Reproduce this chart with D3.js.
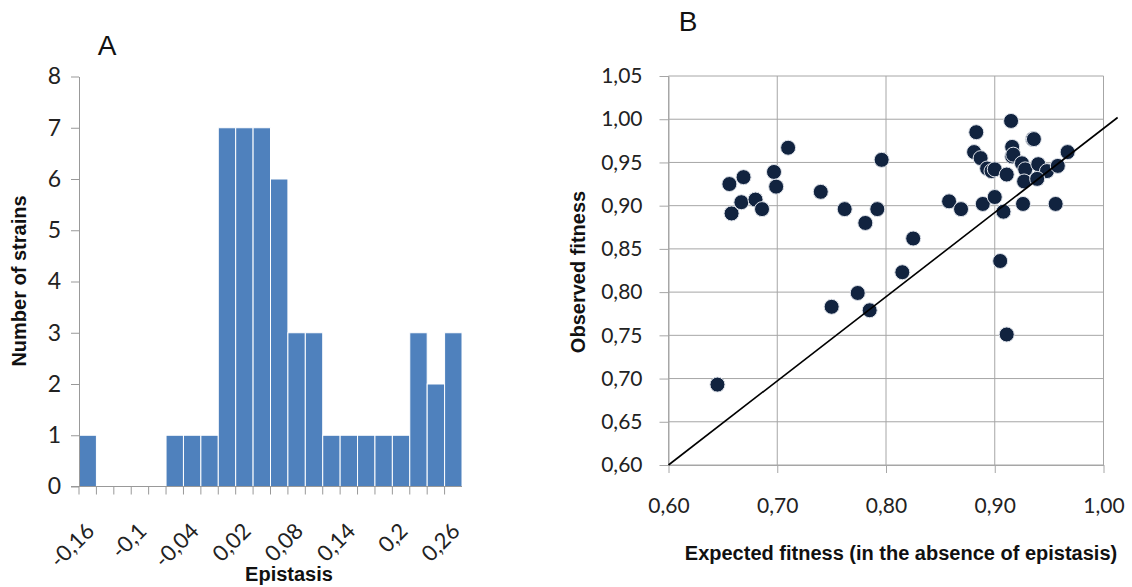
<!DOCTYPE html>
<html>
<head>
<meta charset="utf-8">
<script src="https://cdn.jsdelivr.net/npm/d3@7"></script>
<style>
    body { margin: 0; background: #ffffff; }
    .tick text { font-family: Lato, "Open Sans", sans-serif; fill: #222; }
    .axisTitle { font-family: "Liberation Sans", Arial, sans-serif; font-weight: bold; fill: #111; }
    .panelLabel { font-family: "Liberation Sans", Arial, sans-serif; fill: #111; }
</style>
</head>
<body>
<div id="chart"></div>
<script>

// histogram (panel A)
var epistasisBins = [-0.16, -0.14, -0.12, -0.10, -0.08, -0.06, -0.04, -0.02, 0, 0.02, 0.04,
                     0.06, 0.08, 0.10, 0.12, 0.14, 0.16, 0.18, 0.20, 0.22, 0.24, 0.26];
var strainCounts = [1, 0, 0, 0, 0, 1, 1, 1, 7, 7, 7, 6, 3, 3, 1, 1, 1, 1, 1, 3, 2, 3];
var epistasisLabelled = [-0.16, -0.10, -0.04, 0.02, 0.08, 0.14, 0.20, 0.26];
var countTicks = [0, 1, 2, 3, 4, 5, 6, 7, 8];

// scatter (panel B)
var expectedFitness = [0.645, 0.656, 0.669, 0.658, 0.667, 0.680, 0.686, 0.697, 0.699, 0.710,
                       0.740, 0.762, 0.781, 0.792, 0.796, 0.750, 0.774, 0.785, 0.815, 0.825,
                       0.858, 0.869, 0.889, 0.900, 0.908, 0.926, 0.956, 0.905, 0.911, 0.915,
                       0.883, 0.935, 0.936, 0.916, 0.881, 0.887, 0.916, 0.917, 0.967, 0.925,
                       0.893, 0.897, 0.900, 0.911, 0.928, 0.940, 0.948, 0.958, 0.927, 0.939];
var observedFitness = [0.693, 0.925, 0.933, 0.891, 0.904, 0.907, 0.896, 0.939, 0.922, 0.967,
                       0.916, 0.896, 0.880, 0.896, 0.953, 0.783, 0.799, 0.779, 0.823, 0.862,
                       0.905, 0.896, 0.902, 0.910, 0.893, 0.902, 0.902, 0.836, 0.751, 0.998,
                       0.985, 0.977, 0.977, 0.968, 0.962, 0.955, 0.957, 0.959, 0.962, 0.949,
                       0.943, 0.940, 0.942, 0.936, 0.942, 0.948, 0.940, 0.946, 0.928, 0.931];
var expectedTicks = [0.60, 0.70, 0.80, 0.90, 1.00];
var observedTicks = [0.60, 0.65, 0.70, 0.75, 0.80, 0.85, 0.90, 0.95, 1.00, 1.05];
// hand drawn reference line (ends)
var lineExpected = [0.60, 1.013];
var lineObserved = [0.60, 1.002];

var svg = d3.select("#chart").append("svg")
    .attr("width", 1132)
    .attr("height", 587)
    .style("display", "block");

var commaFormat = function(v){
    return String(+v.toFixed(2)).replace(".", ",");
};

/**
 * Panel A, number of strains per epistasis bin
 */
function Histogram(svg){
    var self = this;
    self.svg = svg;
    self.box = {left: 79, right: 462, top: 76.5, bottom: 486.5};
    self.init();
};

Histogram.prototype.init = function(){
    var self = this;
    var b = self.box;

    self.x = d3.scaleBand().domain(epistasisBins).range([b.left, b.right]).padding(0);
    self.y = d3.scaleLinear().domain([0, 8]).range([b.bottom, b.top]);
    self.g = self.svg.append("g");
};

Histogram.prototype.update = function(){
    var self = this;
    var b = self.box;
    var x = self.x, y = self.y;

    var data = epistasisBins.map(function(d, i){ return {bin: d, count: strainCounts[i]}; });

    self.g.selectAll("rect").data(data).enter().append("rect")
        .attr("x", function(d){ return x(d.bin); })
        .attr("y", function(d){ return y(d.count); })
        .attr("width", x.bandwidth())
        .attr("height", function(d){ return y(0) - y(d.count); })
        .attr("fill", "#4f81bd")
        .attr("stroke", "#ffffff")
        .attr("stroke-width", 1);

    //y axis
    var yAxis = self.g.append("g")
        .attr("transform", "translate(" + b.left + ",0)")
        .call(d3.axisLeft(y).tickValues(countTicks).tickSize(8).tickSizeOuter(0).tickPadding(10));
    yAxis.selectAll("line, path").attr("stroke", "#999");
    yAxis.selectAll("text").style("font-size", "23px");

    //x axis: line and ticks on the bin edges
    self.g.append("line")
        .attr("x1", b.left - 8).attr("x2", b.right)
        .attr("y1", b.bottom).attr("y2", b.bottom)
        .attr("stroke", "#999");
    self.g.selectAll(".edgeTick").data(epistasisBins).enter().append("line")
        .attr("class", "edgeTick")
        .attr("x1", function(d){ return x(d); })
        .attr("x2", function(d){ return x(d); })
        .attr("y1", b.bottom).attr("y2", b.bottom + 8)
        .attr("stroke", "#999");

    var xAxis = self.g.append("g")
        .attr("transform", "translate(0," + b.bottom + ")")
        .call(d3.axisBottom(x).tickValues(epistasisLabelled).tickSize(0).tickFormat(commaFormat));
    xAxis.select(".domain").remove();
    xAxis.selectAll("text")
        .attr("y", 0).attr("dy", 0)
        .attr("text-anchor", "end")
        .attr("transform", "translate(8,46) rotate(-45)")
        .style("font-size", "22px");

    self.svg.append("text").attr("class", "axisTitle")
        .attr("x", 289).attr("y", 581)
        .attr("text-anchor", "middle")
        .style("font-size", "20px")
        .text("Epistasis");

    self.svg.append("text").attr("class", "axisTitle")
        .attr("transform", "translate(26,281) rotate(-90)")
        .attr("text-anchor", "middle")
        .style("font-size", "20px")
        .text("Number of strains");

    self.svg.append("text").attr("class", "panelLabel")
        .attr("x", 107).attr("y", 55)
        .attr("text-anchor", "middle")
        .style("font-size", "28px")
        .text("A");
};

/**
 * Panel B, observed against expected fitness
 */
function FitnessScatter(svg){
    var self = this;
    self.svg = svg;
    self.box = {left: 668.5, right: 1103.5, top: 76, bottom: 465};
    self.init();
};

FitnessScatter.prototype.init = function(){
    var self = this;
    var b = self.box;

    self.x = d3.scaleLinear().domain([0.60, 1.00]).range([b.left, b.right]);
    self.y = d3.scaleLinear().domain([0.60, 1.05]).range([b.bottom, b.top]);
    self.g = self.svg.append("g");
};

FitnessScatter.prototype.update = function(){
    var self = this;
    var b = self.box;
    var x = self.x, y = self.y;

    //gridlines
    self.g.selectAll(".hGrid").data(observedTicks).enter().append("line")
        .attr("class", "hGrid")
        .attr("x1", b.left).attr("x2", b.right)
        .attr("y1", function(d){ return y(d); })
        .attr("y2", function(d){ return y(d); })
        .attr("stroke", "#a6a6a6");
    self.g.selectAll(".vGrid").data(expectedTicks).enter().append("line")
        .attr("class", "vGrid")
        .attr("x1", function(d){ return x(d); })
        .attr("x2", function(d){ return x(d); })
        .attr("y1", b.top).attr("y2", b.bottom)
        .attr("stroke", "#a6a6a6");

    var yAxis = self.g.append("g")
        .attr("transform", "translate(" + b.left + ",0)")
        .call(d3.axisLeft(y).tickValues(observedTicks).tickSize(9).tickSizeOuter(0)
            .tickPadding(17).tickFormat(d3.format(".2f")));
    yAxis.selectAll("line, path").attr("stroke", "#a6a6a6");
    yAxis.selectAll("text")
        .text(function(d){ return d3.format(".2f")(d).replace(".", ","); })
        .style("font-size", "21px");

    var xAxis = self.g.append("g")
        .attr("transform", "translate(0," + b.bottom + ")")
        .call(d3.axisBottom(x).tickValues(expectedTicks).tickSize(8).tickSizeOuter(0).tickPadding(25));
    xAxis.selectAll("line, path").attr("stroke", "#a6a6a6");
    xAxis.selectAll("text")
        .text(function(d){ return d3.format(".2f")(d).replace(".", ","); })
        .style("font-size", "21px");

    var points = expectedFitness.map(function(d, i){ return {e: d, o: observedFitness[i]}; });
    self.g.selectAll("circle").data(points).enter().append("circle")
        .attr("cx", function(d){ return x(d.e); })
        .attr("cy", function(d){ return y(d.o); })
        .attr("r", 7.5)
        .attr("fill", "#11233f")
        .attr("stroke", "#dfe3ea")
        .attr("stroke-width", 1);

    self.g.append("line")
        .attr("x1", x(lineExpected[0])).attr("y1", y(lineObserved[0]))
        .attr("x2", x(lineExpected[1])).attr("y2", y(lineObserved[1]))
        .attr("stroke", "#000")
        .attr("stroke-width", 1.6);

    self.svg.append("text").attr("class", "axisTitle")
        .attr("x", 901).attr("y", 560)
        .attr("text-anchor", "middle")
        .style("font-size", "20px")
        .text("Expected fitness (in the absence of epistasis)");

    self.svg.append("text").attr("class", "axisTitle")
        .attr("transform", "translate(585,272) rotate(-90)")
        .attr("text-anchor", "middle")
        .style("font-size", "20px")
        .text("Observed fitness");

    self.svg.append("text").attr("class", "panelLabel")
        .attr("x", 688).attr("y", 31)
        .attr("text-anchor", "middle")
        .style("font-size", "28px")
        .text("B");
};

var histogram = new Histogram(svg);
histogram.update();
var scatter = new FitnessScatter(svg);
scatter.update();

</script>
</body>
</html>
